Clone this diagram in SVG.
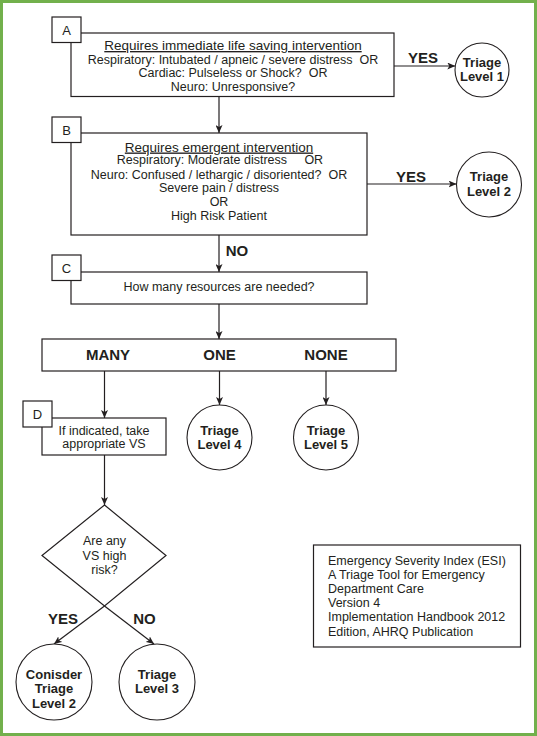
<svg xmlns="http://www.w3.org/2000/svg" width="537" height="736" viewBox="0 0 537 736">
<style>
.box{fill:#fff;stroke:#231f20;stroke-width:1.2}
.circ{fill:#fff;stroke:#231f20;stroke-width:1.1}
.t{font-family:"Liberation Sans",Arial,sans-serif;font-size:12.5px;fill:#231f20;text-anchor:middle;white-space:pre}
.h{font-size:13.5px;text-decoration:underline}
.lbl{font-family:"Liberation Sans",Arial,sans-serif;font-size:13px;fill:#231f20;text-anchor:middle}
.b{font-family:"Liberation Sans",Arial,sans-serif;font-weight:bold;font-size:15px;fill:#231f20;text-anchor:middle}
.c{font-family:"Liberation Sans",Arial,sans-serif;font-weight:bold;font-size:13px;fill:#231f20;text-anchor:middle}
.e{font-family:"Liberation Sans",Arial,sans-serif;font-size:12.5px;fill:#231f20}
.con{fill:none;stroke:#231f20;stroke-width:1.2;marker-end:url(#ah)}
</style>
<defs>
<marker id="ah" markerUnits="userSpaceOnUse" markerWidth="9" markerHeight="7" refX="8" refY="3.5" orient="auto">
<path d="M0,0 L8,3.5 L0,7 L2,3.5 z" fill="#231f20"/>
</marker>
</defs>
<rect x="0" y="0" width="537" height="736" fill="#fff"/>
<rect x="1.5" y="1.5" width="534" height="733" fill="none" stroke="#72b04c" stroke-width="3"/>

<g id="connectors">
<line class="con" x1="219" y1="96.5" x2="219" y2="133"/>
<line class="con" x1="394" y1="66" x2="455.3" y2="66"/>
<line class="con" x1="367" y1="184" x2="456.5" y2="184"/>
<line class="con" x1="219" y1="235" x2="219" y2="272"/>
<line class="con" x1="219" y1="304" x2="219" y2="339"/>
<line class="con" x1="104.5" y1="371" x2="104.5" y2="418"/>
<line class="con" x1="219.5" y1="371" x2="219.5" y2="405"/>
<line class="con" x1="326" y1="371" x2="326" y2="405"/>
<line class="con" x1="104.5" y1="455" x2="104.5" y2="505"/>
<line class="con" x1="104.5" y1="606" x2="54" y2="644"/>
<line class="con" x1="104.5" y1="606" x2="154" y2="644"/>
<text class="b" x="423" y="63">YES</text>
<text class="b" x="411" y="181.5">YES</text>
<text class="b" x="237" y="255.5">NO</text>
<text class="b" x="63" y="623.5">YES</text>
<text class="b" x="144.5" y="623.5">NO</text>
</g>

<g id="nodeA">
<rect class="box" x="71" y="33" width="323" height="63.5"/>
<rect class="box" x="52" y="17" width="29" height="25.5"/>
<text class="lbl" x="66.5" y="34.5">A</text>
<text class="t h" x="233" y="50">Requires immediate life saving intervention</text>
<text class="t" x="233" y="63.5">Respiratory: Intubated / apneic / severe distress  OR</text>
<text class="t" x="233" y="77">Cardiac: Pulseless or Shock?  OR</text>
<text class="t" x="233" y="90.5">Neuro: Unresponsive?</text>
</g>

<g id="level1">
<circle class="circ" cx="482" cy="70" r="27"/>
<text class="c" x="482" y="67">Triage</text>
<text class="c" x="482" y="81">Level 1</text>
</g>

<g id="nodeB">
<rect class="box" x="71" y="133" width="296" height="102"/>
<rect class="box" x="52" y="117" width="29" height="25.5"/>
<text class="lbl" x="66.5" y="134.5">B</text>
<text class="t h" x="219" y="151.5">Requires emergent intervention</text>
<text class="t" x="220" y="164">Respiratory: Moderate distress     OR</text>
<text class="t" x="219" y="178.5">Neuro: Confused / lethargic / disoriented?  OR</text>
<text class="t" x="219" y="191.5">Severe pain / distress</text>
<text class="t" x="219" y="206">OR</text>
<text class="t" x="219" y="220">High Risk Patient</text>
</g>

<g id="level2">
<circle class="circ" cx="489" cy="184.5" r="32.5"/>
<text class="c" x="489" y="181">Triage</text>
<text class="c" x="489" y="196">Level 2</text>
</g>

<g id="nodeC">
<rect class="box" x="71" y="272" width="296" height="32"/>
<rect class="box" x="52" y="255" width="29" height="25.5"/>
<text class="lbl" x="66.5" y="272.5">C</text>
<text class="t" x="219" y="291">How many resources are needed?</text>
</g>

<g id="resources">
<rect class="box" x="42" y="339" width="354" height="32"/>
<text class="b" x="108" y="360">MANY</text>
<text class="b" x="219.5" y="360">ONE</text>
<text class="b" x="326" y="360">NONE</text>
</g>

<g id="nodeD">
<rect class="box" x="42" y="418" width="124" height="37"/>
<rect class="box" x="23" y="401" width="29" height="26"/>
<text class="lbl" x="37.5" y="419">D</text>
<text class="t" x="104" y="434.5">If indicated, take</text>
<text class="t" x="104" y="448">appropriate VS</text>
</g>

<g id="level4">
<circle class="circ" cx="219.5" cy="437.5" r="32.5"/>
<text class="c" x="219.5" y="435">Triage</text>
<text class="c" x="219.5" y="449">Level 4</text>
</g>

<g id="level5">
<circle class="circ" cx="326" cy="437.5" r="32.5"/>
<text class="c" x="326" y="435">Triage</text>
<text class="c" x="326" y="449">Level 5</text>
</g>

<g id="decision">
<polygon class="box" points="104.5,505 166,555.5 104.5,606 42,555.5"/>
<text class="t" x="104.5" y="545">Are any</text>
<text class="t" x="104.5" y="559.5">VS high</text>
<text class="t" x="104.5" y="573.5">risk?</text>
</g>

<g id="consider2">
<circle class="circ" cx="54" cy="682" r="38"/>
<text class="c" x="54" y="678.5">Conisder</text>
<text class="c" x="54" y="693">Triage</text>
<text class="c" x="54" y="707.5">Level 2</text>
</g>

<g id="level3">
<circle class="circ" cx="157" cy="682" r="38"/>
<text class="c" x="157" y="678.5">Triage</text>
<text class="c" x="157" y="693">Level 3</text>
</g>

<g id="source">
<rect class="box" x="313.5" y="545" width="207" height="102"/>
<text class="e" x="328" y="564.5">Emergency Severity Index (ESI)</text>
<text class="e" x="328" y="578.7">A Triage Tool for Emergency</text>
<text class="e" x="328" y="592.9">Department Care</text>
<text class="e" x="328" y="607.1">Version 4</text>
<text class="e" x="328" y="621.3">Implementation Handbook 2012</text>
<text class="e" x="328" y="635.5">Edition, AHRQ Publication</text>
</g>
</svg>
